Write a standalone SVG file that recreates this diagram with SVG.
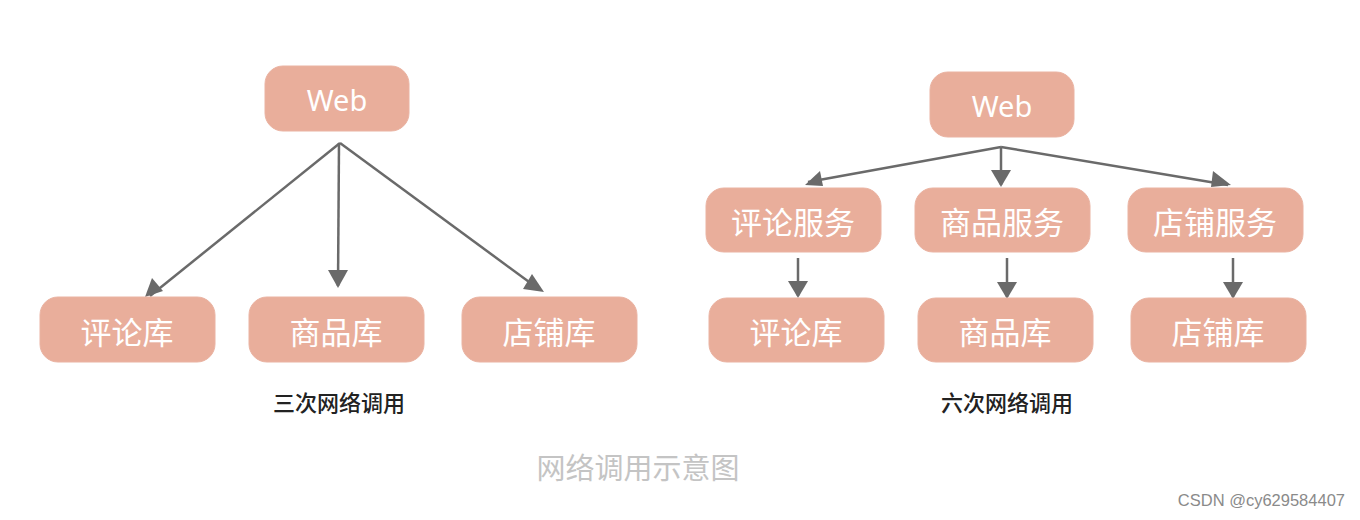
<svg xmlns="http://www.w3.org/2000/svg" width="1360" height="520" viewBox="0 0 1360 520">
<defs>
<style>
.n rect{fill:#e9ae9b;stroke:#eab3a2;stroke-width:1}
.n text{fill:#fff;font-family:"Noto Sans CJK SC","Noto Sans",sans-serif;font-size:31px;text-anchor:middle;dominant-baseline:central}
.c line{stroke:#6a6a6a;stroke-width:2.5}
.c polygon{fill:#6a6a6a}
.cap{font-family:"Noto Sans CJK SC",sans-serif;font-size:22px;font-weight:500;fill:#222;text-anchor:middle}
</style>
</defs>
<rect width="1360" height="520" fill="#fff"/>
<g class="c">
<line x1="340" y1="143" x2="150" y2="296"/>
<line x1="339" y1="143" x2="338" y2="286"/>
<line x1="340" y1="143" x2="540" y2="290"/>
<line x1="1001" y1="147" x2="808" y2="182"/>
<line x1="1001" y1="147" x2="1001" y2="185"/>
<line x1="1001" y1="147" x2="1228" y2="185"/>
<line x1="798" y1="258" x2="798" y2="296"/>
<line x1="1007" y1="258" x2="1007" y2="297"/>
<line x1="1233" y1="258" x2="1233" y2="297"/>
<polygon points="145,297 152,278 163,291"/>
<polygon points="338,288 328,270 348,270"/>
<polygon points="544,292 523,289 532,274"/>
<polygon points="805,185 820,171 823,186"/>
<polygon points="1001,187 991,170 1011,170"/>
<polygon points="1231,185 1213,171 1211,187"/>
<polygon points="798,298 788,281 808,281"/>
<polygon points="1007,299 997,282 1017,282"/>
<polygon points="1233,299 1223,282 1243,282"/>
</g>
<g id="web1" class="n"><rect x="265" y="66" width="144" height="65" rx="18"/><text x="337" y="99" style="font-family:'Noto Sans',sans-serif;font-size:29px">Web</text></g>
<g id="db1a" class="n"><rect x="40" y="297" width="175" height="65" rx="18"/><text x="127" y="330">评论库</text></g>
<g id="db1b" class="n"><rect x="249" y="297" width="175" height="65" rx="18"/><text x="336" y="330">商品库</text></g>
<g id="db1c" class="n"><rect x="462" y="297" width="175" height="65" rx="18"/><text x="549" y="330">店铺库</text></g>
<g id="web2" class="n"><rect x="930" y="72" width="144" height="65" rx="18"/><text x="1002" y="105" style="font-family:'Noto Sans',sans-serif;font-size:29px">Web</text></g>
<g id="svc1" class="n"><rect x="706" y="188" width="175" height="64" rx="18"/><text x="793" y="220">评论服务</text></g>
<g id="svc2" class="n"><rect x="915" y="188" width="175" height="64" rx="18"/><text x="1002" y="220">商品服务</text></g>
<g id="svc3" class="n"><rect x="1128" y="188" width="175" height="64" rx="18"/><text x="1215" y="220">店铺服务</text></g>
<g id="db2a" class="n"><rect x="709" y="298" width="175" height="64" rx="18"/><text x="796" y="330">评论库</text></g>
<g id="db2b" class="n"><rect x="918" y="298" width="175" height="64" rx="18"/><text x="1005" y="330">商品库</text></g>
<g id="db2c" class="n"><rect x="1131" y="298" width="175" height="64" rx="18"/><text x="1218" y="330">店铺库</text></g>
<text class="cap" x="339" y="411">三次网络调用</text>
<text class="cap" x="1007" y="411">六次网络调用</text>
<text x="638" y="479" style="font-family:'Noto Sans CJK SC',sans-serif;font-size:29px;fill:#c4c4c4;text-anchor:middle">网络调用示意图</text>
<text x="1345" y="506" style="font-family:'Liberation Sans',sans-serif;font-size:16.5px;fill:#8a8a8a;text-anchor:end">CSDN @cy629584407</text>
</svg>
